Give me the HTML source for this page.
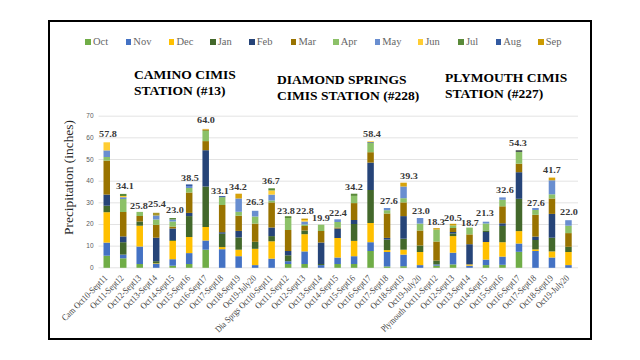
<!DOCTYPE html>
<html><head><meta charset="utf-8"><style>
html,body{margin:0;padding:0;background:#fff;}
body{width:640px;height:360px;position:relative;overflow:hidden;font-family:"Liberation Serif",serif;}
.a{position:absolute;}
.frame{position:absolute;left:48px;top:20px;width:540px;height:316px;border:2px solid #000;}
.lg{position:absolute;width:5.5px;height:5.5px;top:39px;}
.lt{position:absolute;top:36.3px;font-size:10.5px;line-height:12px;color:#666;white-space:nowrap;}
.ttl{position:absolute;font-weight:bold;font-size:13.2px;line-height:15.4px;color:#000;white-space:nowrap;transform-origin:0 0;transform:scaleX(1.025);}
.yl{position:absolute;font-family:"Liberation Sans",sans-serif;font-size:6.5px;line-height:8px;color:#595959;text-align:right;width:20px;}
.gl{position:absolute;height:1px;background:#D9D9D9;}
.seg{position:absolute;}
.vl{position:absolute;font-weight:bold;font-size:8.7px;line-height:10px;color:#383838;text-align:center;width:40px;white-space:nowrap;transform:scaleX(1.17);}
.xl{position:absolute;font-size:9.2px;line-height:10px;color:#454545;white-space:nowrap;transform-origin:100% 0;transform:rotate(-45deg) scaleX(0.86);}
.yt{position:absolute;font-size:13.4px;line-height:15px;color:#262626;white-space:nowrap;transform:rotate(-90deg);}
</style></head><body>
<div class="frame"></div>

<svg class="a" style="left:0;top:0" width="640" height="360" viewBox="0 0 640 360">
<rect x="98.5" y="267.30" width="479.50" height="1" fill="#E3E3E3"/>
<rect x="98.5" y="245.64" width="479.50" height="1" fill="#E3E3E3"/>
<rect x="98.5" y="223.98" width="479.50" height="1" fill="#E3E3E3"/>
<rect x="98.5" y="202.32" width="479.50" height="1" fill="#E3E3E3"/>
<rect x="98.5" y="180.66" width="479.50" height="1" fill="#E3E3E3"/>
<rect x="98.5" y="159.00" width="479.50" height="1" fill="#E3E3E3"/>
<rect x="98.5" y="137.34" width="479.50" height="1" fill="#E3E3E3"/>
<rect x="98.5" y="115.68" width="479.50" height="1" fill="#E3E3E3"/>
<rect x="103.50" y="255.70" width="6.5" height="12.10" fill="#70AD47"/>
<rect x="103.50" y="242.60" width="6.5" height="13.10" fill="#4472C4"/>
<rect x="103.50" y="212.20" width="6.5" height="30.40" fill="#FFC000"/>
<rect x="103.50" y="205.70" width="6.5" height="6.50" fill="#43682B"/>
<rect x="103.50" y="194.60" width="6.5" height="11.10" fill="#264478"/>
<rect x="103.50" y="160.60" width="6.5" height="34.00" fill="#997300"/>
<rect x="103.50" y="157.00" width="6.5" height="3.60" fill="#8CC168"/>
<rect x="103.50" y="150.40" width="6.5" height="6.60" fill="#698ED0"/>
<rect x="103.50" y="142.30" width="6.5" height="8.10" fill="#FFCD33"/>
<rect x="119.98" y="258.30" width="6.5" height="9.50" fill="#70AD47"/>
<rect x="119.98" y="254.60" width="6.5" height="3.70" fill="#4472C4"/>
<rect x="119.98" y="242.20" width="6.5" height="12.40" fill="#43682B"/>
<rect x="119.98" y="236.40" width="6.5" height="5.80" fill="#264478"/>
<rect x="119.98" y="212.00" width="6.5" height="24.40" fill="#997300"/>
<rect x="119.98" y="199.00" width="6.5" height="13.00" fill="#8CC168"/>
<rect x="119.98" y="197.20" width="6.5" height="1.80" fill="#698ED0"/>
<rect x="119.98" y="196.00" width="6.5" height="1.20" fill="#FFCD33"/>
<rect x="119.98" y="193.90" width="6.5" height="2.10" fill="#5A8A39"/>
<rect x="136.47" y="264.00" width="6.5" height="3.80" fill="#70AD47"/>
<rect x="136.47" y="246.50" width="6.5" height="17.50" fill="#4472C4"/>
<rect x="136.47" y="225.70" width="6.5" height="20.80" fill="#FFC000"/>
<rect x="136.47" y="221.50" width="6.5" height="4.20" fill="#43682B"/>
<rect x="136.47" y="216.00" width="6.5" height="5.50" fill="#997300"/>
<rect x="136.47" y="211.90" width="6.5" height="4.10" fill="#8CC168"/>
<rect x="152.97" y="263.80" width="6.5" height="4.00" fill="#4472C4"/>
<rect x="152.97" y="263.30" width="6.5" height="0.50" fill="#FFC000"/>
<rect x="152.97" y="261.20" width="6.5" height="2.10" fill="#43682B"/>
<rect x="152.97" y="237.70" width="6.5" height="23.50" fill="#264478"/>
<rect x="152.97" y="224.90" width="6.5" height="12.80" fill="#997300"/>
<rect x="152.97" y="219.50" width="6.5" height="5.40" fill="#8CC168"/>
<rect x="152.97" y="215.50" width="6.5" height="4.00" fill="#698ED0"/>
<rect x="152.97" y="212.80" width="6.5" height="2.70" fill="#A8962A"/>
<rect x="169.45" y="265.70" width="6.5" height="2.10" fill="#70AD47"/>
<rect x="169.45" y="259.20" width="6.5" height="6.50" fill="#4472C4"/>
<rect x="169.45" y="240.90" width="6.5" height="18.30" fill="#FFC000"/>
<rect x="169.45" y="240.00" width="6.5" height="0.90" fill="#43682B"/>
<rect x="169.45" y="228.50" width="6.5" height="11.50" fill="#264478"/>
<rect x="169.45" y="226.60" width="6.5" height="1.90" fill="#997300"/>
<rect x="169.45" y="221.50" width="6.5" height="5.10" fill="#8CC168"/>
<rect x="169.45" y="219.50" width="6.5" height="2.00" fill="#698ED0"/>
<rect x="169.45" y="218.00" width="6.5" height="1.50" fill="#5A8A39"/>
<rect x="185.94" y="264.00" width="6.5" height="3.80" fill="#70AD47"/>
<rect x="185.94" y="253.10" width="6.5" height="10.90" fill="#4472C4"/>
<rect x="185.94" y="237.00" width="6.5" height="16.10" fill="#FFC000"/>
<rect x="185.94" y="216.10" width="6.5" height="20.90" fill="#43682B"/>
<rect x="185.94" y="212.90" width="6.5" height="3.20" fill="#264478"/>
<rect x="185.94" y="192.50" width="6.5" height="20.40" fill="#997300"/>
<rect x="185.94" y="188.00" width="6.5" height="4.50" fill="#8CC168"/>
<rect x="185.94" y="186.00" width="6.5" height="2.00" fill="#698ED0"/>
<rect x="185.94" y="184.40" width="6.5" height="1.60" fill="#335AA1"/>
<rect x="202.44" y="249.70" width="6.5" height="18.10" fill="#70AD47"/>
<rect x="202.44" y="240.50" width="6.5" height="9.20" fill="#4472C4"/>
<rect x="202.44" y="227.00" width="6.5" height="13.50" fill="#FFC000"/>
<rect x="202.44" y="186.50" width="6.5" height="40.50" fill="#43682B"/>
<rect x="202.44" y="150.20" width="6.5" height="36.30" fill="#264478"/>
<rect x="202.44" y="141.10" width="6.5" height="9.10" fill="#997300"/>
<rect x="202.44" y="131.00" width="6.5" height="10.10" fill="#8CC168"/>
<rect x="202.44" y="129.90" width="6.5" height="1.10" fill="#9A9A3A"/>
<rect x="202.44" y="128.90" width="6.5" height="1.00" fill="#E0B040"/>
<rect x="218.92" y="249.20" width="6.5" height="18.60" fill="#4472C4"/>
<rect x="218.92" y="247.10" width="6.5" height="2.10" fill="#FFC000"/>
<rect x="218.92" y="233.70" width="6.5" height="13.40" fill="#43682B"/>
<rect x="218.92" y="232.20" width="6.5" height="1.50" fill="#264478"/>
<rect x="218.92" y="205.00" width="6.5" height="27.20" fill="#997300"/>
<rect x="218.92" y="197.20" width="6.5" height="7.80" fill="#8CC168"/>
<rect x="218.92" y="196.10" width="6.5" height="1.10" fill="#335AA1"/>
<rect x="235.41" y="256.20" width="6.5" height="11.60" fill="#4472C4"/>
<rect x="235.41" y="249.70" width="6.5" height="6.50" fill="#FFC000"/>
<rect x="235.41" y="237.40" width="6.5" height="12.30" fill="#43682B"/>
<rect x="235.41" y="230.90" width="6.5" height="6.50" fill="#264478"/>
<rect x="235.41" y="215.70" width="6.5" height="15.20" fill="#997300"/>
<rect x="235.41" y="211.80" width="6.5" height="3.90" fill="#8CC168"/>
<rect x="235.41" y="198.50" width="6.5" height="13.30" fill="#698ED0"/>
<rect x="235.41" y="193.70" width="6.5" height="4.80" fill="#D6A20C"/>
<rect x="251.90" y="265.10" width="6.5" height="2.70" fill="#4472C4"/>
<rect x="251.90" y="248.80" width="6.5" height="16.30" fill="#FFC000"/>
<rect x="251.90" y="241.80" width="6.5" height="7.00" fill="#43682B"/>
<rect x="251.90" y="223.60" width="6.5" height="18.20" fill="#997300"/>
<rect x="251.90" y="216.50" width="6.5" height="7.10" fill="#8CC168"/>
<rect x="251.90" y="210.80" width="6.5" height="5.70" fill="#698ED0"/>
<rect x="268.39" y="258.60" width="6.5" height="9.20" fill="#4472C4"/>
<rect x="268.39" y="241.30" width="6.5" height="17.30" fill="#FFC000"/>
<rect x="268.39" y="236.10" width="6.5" height="5.20" fill="#43682B"/>
<rect x="268.39" y="227.50" width="6.5" height="8.60" fill="#264478"/>
<rect x="268.39" y="202.40" width="6.5" height="25.10" fill="#997300"/>
<rect x="268.39" y="200.50" width="6.5" height="1.90" fill="#8CC168"/>
<rect x="268.39" y="194.60" width="6.5" height="5.90" fill="#698ED0"/>
<rect x="268.39" y="190.40" width="6.5" height="4.20" fill="#FFCD33"/>
<rect x="268.39" y="188.30" width="6.5" height="2.10" fill="#5A8A39"/>
<rect x="284.88" y="264.00" width="6.5" height="3.80" fill="#70AD47"/>
<rect x="284.88" y="261.20" width="6.5" height="2.80" fill="#4472C4"/>
<rect x="284.88" y="255.30" width="6.5" height="5.90" fill="#43682B"/>
<rect x="284.88" y="251.00" width="6.5" height="4.30" fill="#264478"/>
<rect x="284.88" y="230.00" width="6.5" height="21.00" fill="#997300"/>
<rect x="284.88" y="218.00" width="6.5" height="12.00" fill="#8CC168"/>
<rect x="284.88" y="216.20" width="6.5" height="1.80" fill="#5A8A39"/>
<rect x="301.38" y="264.00" width="6.5" height="3.80" fill="#70AD47"/>
<rect x="301.38" y="251.40" width="6.5" height="12.60" fill="#4472C4"/>
<rect x="301.38" y="234.20" width="6.5" height="17.20" fill="#FFC000"/>
<rect x="301.38" y="230.50" width="6.5" height="3.70" fill="#43682B"/>
<rect x="301.38" y="226.00" width="6.5" height="4.50" fill="#997300"/>
<rect x="301.38" y="224.50" width="6.5" height="1.50" fill="#8CC168"/>
<rect x="301.38" y="221.50" width="6.5" height="3.00" fill="#698ED0"/>
<rect x="301.38" y="220.00" width="6.5" height="1.50" fill="#FFCD33"/>
<rect x="301.38" y="218.60" width="6.5" height="1.40" fill="#CC9A00"/>
<rect x="317.87" y="265.10" width="6.5" height="2.70" fill="#4472C4"/>
<rect x="317.87" y="264.00" width="6.5" height="1.10" fill="#43682B"/>
<rect x="317.87" y="242.50" width="6.5" height="21.50" fill="#264478"/>
<rect x="317.87" y="231.00" width="6.5" height="11.50" fill="#997300"/>
<rect x="317.87" y="224.70" width="6.5" height="6.30" fill="#8CC168"/>
<rect x="334.36" y="264.00" width="6.5" height="3.80" fill="#70AD47"/>
<rect x="334.36" y="257.50" width="6.5" height="6.50" fill="#4472C4"/>
<rect x="334.36" y="238.00" width="6.5" height="19.50" fill="#FFC000"/>
<rect x="334.36" y="228.50" width="6.5" height="9.50" fill="#264478"/>
<rect x="334.36" y="227.50" width="6.5" height="1.00" fill="#997300"/>
<rect x="334.36" y="222.00" width="6.5" height="5.50" fill="#8CC168"/>
<rect x="334.36" y="219.30" width="6.5" height="2.70" fill="#698ED0"/>
<rect x="350.84" y="264.00" width="6.5" height="3.80" fill="#70AD47"/>
<rect x="350.84" y="256.20" width="6.5" height="7.80" fill="#4472C4"/>
<rect x="350.84" y="240.90" width="6.5" height="15.30" fill="#FFC000"/>
<rect x="350.84" y="224.00" width="6.5" height="16.90" fill="#43682B"/>
<rect x="350.84" y="220.00" width="6.5" height="4.00" fill="#264478"/>
<rect x="350.84" y="203.10" width="6.5" height="16.90" fill="#997300"/>
<rect x="350.84" y="195.90" width="6.5" height="7.20" fill="#8CC168"/>
<rect x="350.84" y="193.70" width="6.5" height="2.20" fill="#5A8A39"/>
<rect x="367.33" y="251.00" width="6.5" height="16.80" fill="#70AD47"/>
<rect x="367.33" y="242.20" width="6.5" height="8.80" fill="#4472C4"/>
<rect x="367.33" y="223.00" width="6.5" height="19.20" fill="#FFC000"/>
<rect x="367.33" y="190.00" width="6.5" height="33.00" fill="#43682B"/>
<rect x="367.33" y="162.60" width="6.5" height="27.40" fill="#264478"/>
<rect x="367.33" y="152.20" width="6.5" height="10.40" fill="#997300"/>
<rect x="367.33" y="143.00" width="6.5" height="9.20" fill="#8CC168"/>
<rect x="367.33" y="142.20" width="6.5" height="0.80" fill="#335AA1"/>
<rect x="367.33" y="141.30" width="6.5" height="0.90" fill="#FFCD33"/>
<rect x="383.82" y="266.40" width="6.5" height="1.40" fill="#70AD47"/>
<rect x="383.82" y="252.00" width="6.5" height="14.40" fill="#4472C4"/>
<rect x="383.82" y="250.10" width="6.5" height="1.90" fill="#FFC000"/>
<rect x="383.82" y="239.60" width="6.5" height="10.50" fill="#43682B"/>
<rect x="383.82" y="237.90" width="6.5" height="1.70" fill="#264478"/>
<rect x="383.82" y="213.50" width="6.5" height="24.40" fill="#997300"/>
<rect x="383.82" y="210.20" width="6.5" height="3.30" fill="#8CC168"/>
<rect x="383.82" y="208.00" width="6.5" height="2.20" fill="#698ED0"/>
<rect x="400.31" y="266.20" width="6.5" height="1.60" fill="#70AD47"/>
<rect x="400.31" y="254.60" width="6.5" height="11.60" fill="#4472C4"/>
<rect x="400.31" y="249.70" width="6.5" height="4.90" fill="#FFC000"/>
<rect x="400.31" y="238.70" width="6.5" height="11.00" fill="#43682B"/>
<rect x="400.31" y="216.10" width="6.5" height="22.60" fill="#264478"/>
<rect x="400.31" y="202.40" width="6.5" height="13.70" fill="#997300"/>
<rect x="400.31" y="198.20" width="6.5" height="4.20" fill="#8CC168"/>
<rect x="400.31" y="186.50" width="6.5" height="11.70" fill="#698ED0"/>
<rect x="400.31" y="182.70" width="6.5" height="3.80" fill="#D6A20C"/>
<rect x="416.80" y="265.10" width="6.5" height="2.70" fill="#4472C4"/>
<rect x="416.80" y="252.00" width="6.5" height="13.10" fill="#FFC000"/>
<rect x="416.80" y="245.50" width="6.5" height="6.50" fill="#43682B"/>
<rect x="416.80" y="230.50" width="6.5" height="15.00" fill="#997300"/>
<rect x="416.80" y="223.60" width="6.5" height="6.90" fill="#8CC168"/>
<rect x="416.80" y="218.00" width="6.5" height="5.60" fill="#698ED0"/>
<rect x="433.29" y="265.70" width="6.5" height="2.10" fill="#70AD47"/>
<rect x="433.29" y="264.40" width="6.5" height="1.30" fill="#4472C4"/>
<rect x="433.29" y="260.50" width="6.5" height="3.90" fill="#43682B"/>
<rect x="433.29" y="241.50" width="6.5" height="19.00" fill="#997300"/>
<rect x="433.29" y="229.50" width="6.5" height="12.00" fill="#8CC168"/>
<rect x="433.29" y="228.20" width="6.5" height="1.30" fill="#CC9A00"/>
<rect x="449.78" y="264.40" width="6.5" height="3.40" fill="#70AD47"/>
<rect x="449.78" y="252.70" width="6.5" height="11.70" fill="#4472C4"/>
<rect x="449.78" y="236.10" width="6.5" height="16.60" fill="#FFC000"/>
<rect x="449.78" y="233.50" width="6.5" height="2.60" fill="#43682B"/>
<rect x="449.78" y="232.00" width="6.5" height="1.50" fill="#264478"/>
<rect x="449.78" y="228.00" width="6.5" height="4.00" fill="#997300"/>
<rect x="449.78" y="225.50" width="6.5" height="2.50" fill="#8CC168"/>
<rect x="449.78" y="223.80" width="6.5" height="1.70" fill="#CC9A00"/>
<rect x="466.27" y="265.70" width="6.5" height="2.10" fill="#4472C4"/>
<rect x="466.27" y="264.40" width="6.5" height="1.30" fill="#FFC000"/>
<rect x="466.27" y="244.20" width="6.5" height="20.20" fill="#264478"/>
<rect x="466.27" y="234.40" width="6.5" height="9.80" fill="#997300"/>
<rect x="466.27" y="227.60" width="6.5" height="6.80" fill="#8CC168"/>
<rect x="482.76" y="265.10" width="6.5" height="2.70" fill="#70AD47"/>
<rect x="482.76" y="259.60" width="6.5" height="5.50" fill="#4472C4"/>
<rect x="482.76" y="242.00" width="6.5" height="17.60" fill="#FFC000"/>
<rect x="482.76" y="232.00" width="6.5" height="10.00" fill="#264478"/>
<rect x="482.76" y="230.50" width="6.5" height="1.50" fill="#43682B"/>
<rect x="482.76" y="223.50" width="6.5" height="7.00" fill="#8CC168"/>
<rect x="482.76" y="221.70" width="6.5" height="1.80" fill="#698ED0"/>
<rect x="499.25" y="264.80" width="6.5" height="3.00" fill="#70AD47"/>
<rect x="499.25" y="256.60" width="6.5" height="8.20" fill="#4472C4"/>
<rect x="499.25" y="242.20" width="6.5" height="14.40" fill="#FFC000"/>
<rect x="499.25" y="225.90" width="6.5" height="16.30" fill="#43682B"/>
<rect x="499.25" y="223.30" width="6.5" height="2.60" fill="#264478"/>
<rect x="499.25" y="206.30" width="6.5" height="17.00" fill="#997300"/>
<rect x="499.25" y="199.80" width="6.5" height="6.50" fill="#8CC168"/>
<rect x="499.25" y="197.40" width="6.5" height="2.40" fill="#698ED0"/>
<rect x="515.74" y="251.80" width="6.5" height="16.00" fill="#70AD47"/>
<rect x="515.74" y="243.50" width="6.5" height="8.30" fill="#4472C4"/>
<rect x="515.74" y="231.10" width="6.5" height="12.40" fill="#FFC000"/>
<rect x="515.74" y="198.80" width="6.5" height="32.30" fill="#43682B"/>
<rect x="515.74" y="172.20" width="6.5" height="26.60" fill="#264478"/>
<rect x="515.74" y="163.70" width="6.5" height="8.50" fill="#997300"/>
<rect x="515.74" y="152.00" width="6.5" height="11.70" fill="#8CC168"/>
<rect x="515.74" y="150.20" width="6.5" height="1.80" fill="#4F5A58"/>
<rect x="532.23" y="251.00" width="6.5" height="16.80" fill="#4472C4"/>
<rect x="532.23" y="249.40" width="6.5" height="1.60" fill="#FFC000"/>
<rect x="532.23" y="240.00" width="6.5" height="9.40" fill="#43682B"/>
<rect x="532.23" y="236.60" width="6.5" height="3.40" fill="#264478"/>
<rect x="532.23" y="214.80" width="6.5" height="21.80" fill="#997300"/>
<rect x="532.23" y="210.00" width="6.5" height="4.80" fill="#8CC168"/>
<rect x="532.23" y="208.00" width="6.5" height="2.00" fill="#698ED0"/>
<rect x="548.72" y="257.50" width="6.5" height="10.30" fill="#4472C4"/>
<rect x="548.72" y="251.40" width="6.5" height="6.10" fill="#FFC000"/>
<rect x="548.72" y="237.70" width="6.5" height="13.70" fill="#43682B"/>
<rect x="548.72" y="213.90" width="6.5" height="23.80" fill="#264478"/>
<rect x="548.72" y="198.50" width="6.5" height="15.40" fill="#997300"/>
<rect x="548.72" y="194.30" width="6.5" height="4.20" fill="#8CC168"/>
<rect x="548.72" y="180.30" width="6.5" height="14.00" fill="#698ED0"/>
<rect x="548.72" y="177.60" width="6.5" height="2.70" fill="#D6A20C"/>
<rect x="565.21" y="265.10" width="6.5" height="2.70" fill="#4472C4"/>
<rect x="565.21" y="252.00" width="6.5" height="13.10" fill="#FFC000"/>
<rect x="565.21" y="246.80" width="6.5" height="5.20" fill="#43682B"/>
<rect x="565.21" y="233.10" width="6.5" height="13.70" fill="#997300"/>
<rect x="565.21" y="225.70" width="6.5" height="7.40" fill="#8CC168"/>
<rect x="565.21" y="220.20" width="6.5" height="5.50" fill="#698ED0"/>
</svg>
<div class="lg" style="left:85.25px;background:#70AD47"></div>
<div class="lt" style="left:93.00px">Oct</div>
<div class="lg" style="left:125.6px;background:#4472C4"></div>
<div class="lt" style="left:133.35px">Nov</div>
<div class="lg" style="left:168.75px;background:#FFC000"></div>
<div class="lt" style="left:176.50px">Dec</div>
<div class="lg" style="left:210px;background:#43682B"></div>
<div class="lt" style="left:217.75px">Jan</div>
<div class="lg" style="left:249px;background:#264478"></div>
<div class="lt" style="left:256.75px">Feb</div>
<div class="lg" style="left:290.75px;background:#997300"></div>
<div class="lt" style="left:298.50px">Mar</div>
<div class="lg" style="left:333px;background:#8CC168"></div>
<div class="lt" style="left:340.75px">Apr</div>
<div class="lg" style="left:374.5px;background:#698ED0"></div>
<div class="lt" style="left:382.25px">May</div>
<div class="lg" style="left:417.5px;background:#FFCD33"></div>
<div class="lt" style="left:425.25px">Jun</div>
<div class="lg" style="left:458.25px;background:#5A8A39"></div>
<div class="lt" style="left:466.00px">Jul</div>
<div class="lg" style="left:495.5px;background:#335AA1"></div>
<div class="lt" style="left:503.25px">Aug</div>
<div class="lg" style="left:538px;background:#CC9A00"></div>
<div class="lt" style="left:545.75px">Sep</div>
<div class="ttl" style="left:134px;top:67.2px">CAMINO CIMIS<br>STATION (#13)</div>
<div class="ttl" style="left:277px;top:72.1px">DIAMOND SPRINGS<br>CIMIS STATION (#228)</div>
<div class="ttl" style="left:445px;top:70.3px">PLYMOUTH CIMIS<br>STATION (#227)</div>
<div class="yl" style="left:73.5px;top:263.80px">0</div>
<div class="yl" style="left:73.5px;top:242.14px">10</div>
<div class="yl" style="left:73.5px;top:220.48px">20</div>
<div class="yl" style="left:73.5px;top:198.82px">30</div>
<div class="yl" style="left:73.5px;top:177.16px">40</div>
<div class="yl" style="left:73.5px;top:155.50px">50</div>
<div class="yl" style="left:73.5px;top:133.84px">60</div>
<div class="yl" style="left:73.5px;top:112.18px">70</div>
<div class="vl" style="left:87.67px;top:129.30px">57.8</div>
<div class="xl" style="right:537.36px;top:272.8px">Cam Oct10-Sept11</div>
<div class="vl" style="left:105.00px;top:181.10px">34.1</div>
<div class="xl" style="right:520.87px;top:272.8px">Oct11-Sept12</div>
<div class="vl" style="left:118.70px;top:201.10px">25.8</div>
<div class="xl" style="right:504.38px;top:272.8px">Oct12-Sept13</div>
<div class="vl" style="left:136.75px;top:199.10px">25.4</div>
<div class="xl" style="right:487.88px;top:272.8px">Oct13-Sept14</div>
<div class="vl" style="left:154.75px;top:205.30px">23.0</div>
<div class="xl" style="right:471.39px;top:272.8px">Oct14-Sept15</div>
<div class="vl" style="left:169.50px;top:173.30px">38.5</div>
<div class="xl" style="right:454.90px;top:272.8px">Oct15-Sept16</div>
<div class="vl" style="left:186.38px;top:115.30px">64.0</div>
<div class="xl" style="right:438.41px;top:272.8px">Oct16-Sept17</div>
<div class="vl" style="left:199.65px;top:185.80px">33.1</div>
<div class="xl" style="right:421.93px;top:272.8px">Oct17-Sept18</div>
<div class="vl" style="left:218.00px;top:182.30px">34.2</div>
<div class="xl" style="right:405.44px;top:272.8px">Oct18-Sept19</div>
<div class="vl" style="left:234.75px;top:197.30px">26.3</div>
<div class="xl" style="right:388.95px;top:272.8px">Oct19-July20</div>
<div class="vl" style="left:251.30px;top:176.10px">36.7</div>
<div class="xl" style="right:372.46px;top:272.8px">Dia Sprgs Oct10-Sept11</div>
<div class="vl" style="left:265.75px;top:205.80px">23.8</div>
<div class="xl" style="right:355.97px;top:272.8px">Oct11-Sept12</div>
<div class="vl" style="left:285.25px;top:205.80px">22.8</div>
<div class="xl" style="right:339.48px;top:272.8px">Oct12-Sept13</div>
<div class="vl" style="left:300.75px;top:213.30px">19.9</div>
<div class="xl" style="right:322.99px;top:272.8px">Oct13-Sept14</div>
<div class="vl" style="left:317.50px;top:207.80px">22.4</div>
<div class="xl" style="right:306.50px;top:272.8px">Oct14-Sept15</div>
<div class="vl" style="left:333.50px;top:181.80px">34.2</div>
<div class="xl" style="right:290.01px;top:272.8px">Oct15-Sept16</div>
<div class="vl" style="left:352.25px;top:129.10px">58.4</div>
<div class="xl" style="right:273.52px;top:272.8px">Oct16-Sept17</div>
<div class="vl" style="left:368.50px;top:195.80px">27.6</div>
<div class="xl" style="right:257.03px;top:272.8px">Oct17-Sept18</div>
<div class="vl" style="left:388.50px;top:171.30px">39.3</div>
<div class="xl" style="right:240.54px;top:272.8px">Oct18-Sept19</div>
<div class="vl" style="left:400.50px;top:206.10px">23.0</div>
<div class="xl" style="right:224.05px;top:272.8px">Oct19-July20</div>
<div class="vl" style="left:416.25px;top:217.30px">18.3</div>
<div class="xl" style="right:207.56px;top:272.8px">Plymouth Oct11-Sept12</div>
<div class="vl" style="left:433.00px;top:212.50px">20.5</div>
<div class="xl" style="right:191.07px;top:272.8px">Oct12-Sept13</div>
<div class="vl" style="left:449.90px;top:217.80px">18.7</div>
<div class="xl" style="right:174.58px;top:272.8px">Oct13-Sept14</div>
<div class="vl" style="left:465.40px;top:208.10px">21.3</div>
<div class="xl" style="right:158.09px;top:272.8px">Oct14-Sept15</div>
<div class="vl" style="left:484.60px;top:185.30px">32.6</div>
<div class="xl" style="right:141.60px;top:272.8px">Oct15-Sept16</div>
<div class="vl" style="left:498.40px;top:138.30px">54.3</div>
<div class="xl" style="right:125.11px;top:272.8px">Oct16-Sept17</div>
<div class="vl" style="left:515.50px;top:198.30px">27.6</div>
<div class="xl" style="right:108.62px;top:272.8px">Oct17-Sept18</div>
<div class="vl" style="left:531.70px;top:165.30px">41.7</div>
<div class="xl" style="right:92.13px;top:272.8px">Oct18-Sept19</div>
<div class="vl" style="left:549.40px;top:207.30px">22.0</div>
<div class="xl" style="right:75.64px;top:272.8px">Oct19-July20</div>
<div class="yt" style="left:10.5px;top:169.6px">Precipitation (inches)</div>
</body></html>
